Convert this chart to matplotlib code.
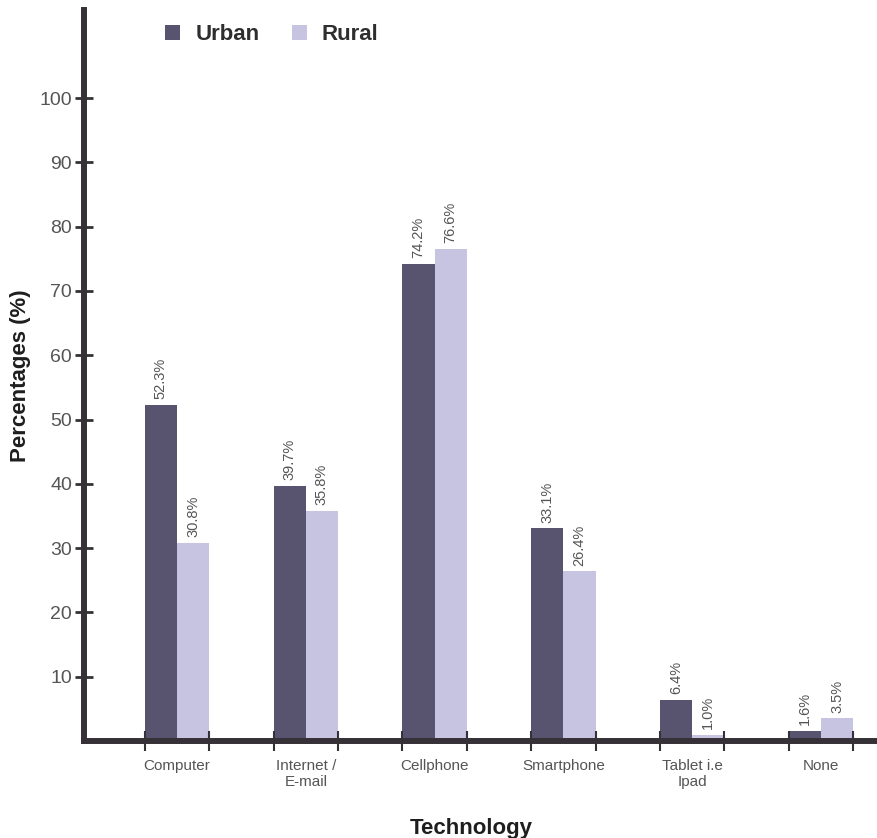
import matplotlib
matplotlib.use("Agg")
import matplotlib.pyplot as plt
import numpy as np

categories = ["Computer", "Internet /\nE-mail", "Cellphone", "Smartphone", "Tablet i.e\nIpad", "None"]
urban = [52.3, 39.7, 74.2, 33.1, 6.4, 1.6]
rural = [30.8, 35.8, 76.6, 26.4, 1.0, 3.5]
yticks = [10, 20, 30, 40, 50, 60, 70, 80, 90, 100]

plt.rcParams["font.family"] = ["Liberation Sans", "DejaVu Sans"]

URBAN_COLOR = "#58536f"
RURAL_COLOR = "#c7c4e2"
AXIS_COLOR = "#363136"
TEXT_COLOR = "#555555"

fig = plt.figure(figsize=(8.78, 8.38), dpi=100)
ax = fig.add_axes([84 / 878, 1 - 741 / 838, 1 - 84 / 878, (741 - 10) / 838])

x = np.arange(len(categories))
w = 0.25
b1 = ax.bar(x - w / 2, urban, w, color=URBAN_COLOR, label="Urban")
b2 = ax.bar(x + w / 2, rural, w, color=RURAL_COLOR, label="Rural")

# value labels, rotated above each bar
for bars, vals in ((b1, urban), (b2, rural)):
    for bar, v in zip(bars, vals):
        ax.annotate(f"{v:.1f}%", (bar.get_x() + bar.get_width() / 2, v),
                    xytext=(0, 4), textcoords="offset points",
                    ha="center", va="bottom", rotation=90,
                    fontsize=10.5, color=TEXT_COLOR)

ax.set_xlim(-0.722, 5.443)
ax.set_ylim(0, 113.7)

for side in ("top", "right"):
    ax.spines[side].set_visible(False)
for side in ("left", "bottom"):
    ax.spines[side].set_color(AXIS_COLOR)
    ax.spines[side].set_linewidth(4.3)
    ax.spines[side].set_zorder(3)

ax.set_yticks(yticks)
ax.tick_params(axis="y", direction="inout", length=13, width=2, color=AXIS_COLOR,
               labelsize=14, labelcolor=TEXT_COLOR, pad=2)

ax.set_xticks(x)
ax.set_xticklabels(categories)
ax.set_xticks(np.concatenate([x - w, x + w]), minor=True)
ax.tick_params(axis="x", which="major", length=0, pad=13,
               labelsize=11, labelcolor=TEXT_COLOR)
ax.tick_params(axis="x", which="minor", direction="inout", length=14, width=1.5,
               color=AXIS_COLOR)

ax.set_ylabel("Percentages (%)", fontsize=16, fontweight="bold", color="#1e1e1e", labelpad=6)
fig.text(471 / 878, 1 - 828 / 838, "Technology", fontsize=16, fontweight="bold",
         color="#1e1e1e", ha="center", va="center")

leg = ax.legend(loc="center left", bbox_to_anchor=(165 / 878, 1 - 35 / 838),
                bbox_transform=fig.transFigure, ncol=2, frameon=False,
                borderpad=0, borderaxespad=0, handlelength=0.68, handleheight=0.68,
                handletextpad=0.68, columnspacing=1.45,
                prop={"size": 16, "weight": "bold"})
for t in leg.get_texts():
    t.set_color("#2e2e2e")

fig.savefig("out.png", dpi=100)
